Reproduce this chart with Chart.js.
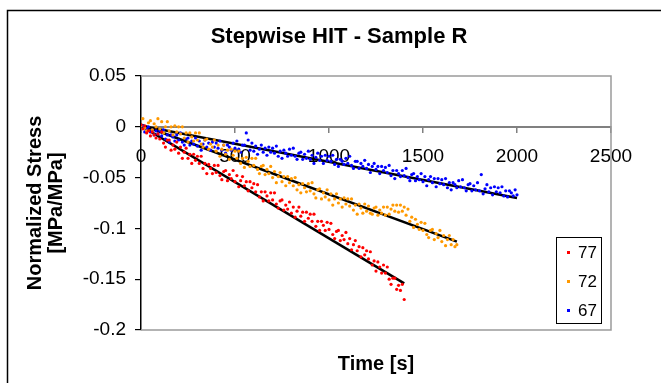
<!DOCTYPE html>
<html>
<head>
<meta charset="utf-8">
<script src="https://cdn.jsdelivr.net/npm/chart.js@4.4.0/dist/chart.umd.min.js"></script>
<style>
  html, body { margin: 0; padding: 0; background: #fff; }
  #wrap { position: relative; width: 661px; height: 383px; }
  #legend {
    position: absolute; left: 556px; top: 237px; width: 44px; height: 85px;
    border: 1.5px solid #000; background: #fff;
    font-family: Arial, "Liberation Sans", sans-serif; font-size: 17px; color: #000;
  }
  #legend .row { position: relative; height: 29px; line-height: 29px; padding-left: 21px; }
  #legend .mk { position: absolute; left: 10px; top: 13px; width: 3px; height: 3px; }
</style>
</head>
<body>
<div id="wrap">
  <canvas id="chart" width="661" height="383"></canvas>
  <div id="legend"></div>
</div>
<script>
// sampling times [s], one reading every 10 s
const timeS = [0, 10, 20, 30, 40, 50, 60, 70, 80, 90,
  100, 110, 120, 130, 140, 150, 160, 170, 180, 190,
  200, 210, 220, 230, 240, 250, 260, 270, 280, 290,
  300, 310, 320, 330, 340, 350, 360, 370, 380, 390,
  400, 410, 420, 430, 440, 450, 460, 470, 480, 490,
  500, 510, 520, 530, 540, 550, 560, 570, 580, 590,
  600, 610, 620, 630, 640, 650, 660, 670, 680, 690,
  700, 710, 720, 730, 740, 750, 760, 770, 780, 790,
  800, 810, 820, 830, 840, 850, 860, 870, 880, 890,
  900, 910, 920, 930, 940, 950, 960, 970, 980, 990,
  1000, 1010, 1020, 1030, 1040, 1050, 1060, 1070, 1080, 1090,
  1100, 1110, 1120, 1130, 1140, 1150, 1160, 1170, 1180, 1190,
  1200, 1210, 1220, 1230, 1240, 1250, 1260, 1270, 1280, 1290,
  1300, 1310, 1320, 1330, 1340, 1350, 1360, 1370, 1380, 1390,
  1400, 1410, 1420, 1430, 1440, 1450, 1460, 1470, 1480, 1490,
  1500, 1510, 1520, 1530, 1540, 1550, 1560, 1570, 1580, 1590,
  1600, 1610, 1620, 1630, 1640, 1650, 1660, 1670, 1680, 1690,
  1700, 1710, 1720, 1730, 1740, 1750, 1760, 1770, 1780, 1790,
  1800, 1810, 1820, 1830, 1840, 1850, 1860, 1870, 1880, 1890,
  1900, 1910, 1920, 1930, 1940, 1950, 1960, 1970, 1980, 1990,
  2000]

// sample 77 (0 - 1400 s)
const stress77 = [0.002, -0.002, 0.001, -0.006, -0.004, -0.009, -0.005, -0.008, -0.011, -0.007,
  -0.012, -0.005, -0.016, -0.020, -0.013, -0.013, -0.023, -0.018, -0.022, -0.015,
  -0.026, -0.020, -0.031, -0.025, -0.021, -0.031, -0.027, -0.036, -0.027, -0.033,
  -0.029, -0.036, -0.029, -0.041, -0.036, -0.046, -0.037, -0.041, -0.046, -0.038,
  -0.045, -0.038, -0.048, -0.052, -0.044, -0.043, -0.053, -0.047, -0.051, -0.043,
  -0.054, -0.048, -0.059, -0.053, -0.049, -0.058, -0.054, -0.063, -0.054, -0.060,
  -0.056, -0.064, -0.057, -0.069, -0.064, -0.073, -0.064, -0.068, -0.073, -0.065,
  -0.072, -0.065, -0.076, -0.080, -0.073, -0.072, -0.082, -0.077, -0.081, -0.074,
  -0.085, -0.079, -0.089, -0.083, -0.079, -0.088, -0.084, -0.093, -0.084, -0.090,
  -0.086, -0.093, -0.086, -0.098, -0.093, -0.102, -0.093, -0.097, -0.102, -0.094,
  -0.101, -0.095, -0.106, -0.110, -0.103, -0.102, -0.112, -0.107, -0.111, -0.104,
  -0.115, -0.110, -0.121, -0.116, -0.112, -0.122, -0.118, -0.128, -0.119, -0.126,
  -0.122, -0.130, -0.123, -0.136, -0.132, -0.142, -0.133, -0.138, -0.144, -0.136,
  -0.144, -0.138, -0.150, -0.155, -0.149, -0.149, -0.160, -0.156, -0.161, -0.155,
  -0.170]

// sample 72 (0 - 1680 s)
const stress72 = [0.001, 0.008, -0.001, -0.004, 0.004, 0.006, -0.003, 0.003, 0.000, 0.008,
  -0.002, 0.005, -0.006, 0.000, 0.005, -0.004, 0.000, -0.008, 0.001, -0.005,
  0.000, -0.007, 0.000, -0.011, -0.006, -0.015, -0.006, -0.010, -0.014, -0.006,
  -0.013, -0.006, -0.017, -0.020, -0.013, -0.012, -0.022, -0.017, -0.020, -0.013,
  -0.024, -0.018, -0.029, -0.022, -0.018, -0.027, -0.023, -0.032, -0.022, -0.028,
  -0.024, -0.031, -0.024, -0.036, -0.031, -0.040, -0.030, -0.034, -0.039, -0.031,
  -0.038, -0.031, -0.042, -0.046, -0.039, -0.038, -0.047, -0.042, -0.046, -0.039,
  -0.050, -0.044, -0.055, -0.049, -0.045, -0.054, -0.049, -0.058, -0.049, -0.055,
  -0.051, -0.058, -0.050, -0.062, -0.057, -0.065, -0.056, -0.060, -0.064, -0.056,
  -0.063, -0.055, -0.066, -0.070, -0.062, -0.061, -0.071, -0.065, -0.069, -0.062,
  -0.072, -0.066, -0.077, -0.071, -0.066, -0.075, -0.071, -0.079, -0.070, -0.076,
  -0.071, -0.078, -0.071, -0.082, -0.077, -0.086, -0.076, -0.080, -0.085, -0.076,
  -0.083, -0.078, -0.085, -0.086, -0.080, -0.079, -0.087, -0.082, -0.085, -0.079,
  -0.087, -0.079, -0.086, -0.081, -0.077, -0.083, -0.077, -0.084, -0.077, -0.083,
  -0.079, -0.087, -0.081, -0.093, -0.089, -0.099, -0.091, -0.096, -0.101, -0.094,
  -0.102, -0.095, -0.106, -0.109, -0.102, -0.101, -0.111, -0.105, -0.109, -0.102,
  -0.113, -0.107, -0.117, -0.111, -0.107, -0.116, -0.111, -0.118, -0.116]

// sample 67 (0 - 2000 s)
const stress67 = [0.001, 0.001, -0.005, -0.002, 0.000, -0.005, -0.003, -0.008, -0.004, -0.007,
  -0.004, -0.009, -0.003, -0.012, -0.008, -0.015, -0.008, -0.010, -0.014, -0.008,
  -0.013, -0.006, -0.015, -0.018, -0.012, -0.011, -0.018, -0.014, -0.017, -0.011,
  -0.019, -0.014, -0.023, -0.017, -0.013, -0.020, -0.016, -0.023, -0.015, -0.020,
  -0.016, -0.021, -0.014, -0.023, -0.018, -0.026, -0.018, -0.020, -0.023, -0.016,
  -0.021, -0.014, -0.022, -0.025, -0.018, -0.018, -0.006, -0.013, -0.023, -0.016,
  -0.024, -0.019, -0.027, -0.022, -0.018, -0.025, -0.021, -0.028, -0.020, -0.025,
  -0.021, -0.026, -0.019, -0.029, -0.024, -0.031, -0.023, -0.026, -0.029, -0.022,
  -0.028, -0.021, -0.029, -0.032, -0.026, -0.025, -0.032, -0.027, -0.031, -0.024,
  -0.032, -0.028, -0.036, -0.030, -0.026, -0.033, -0.029, -0.036, -0.028, -0.033,
  -0.029, -0.034, -0.028, -0.037, -0.032, -0.039, -0.032, -0.034, -0.037, -0.031,
  -0.036, -0.029, -0.038, -0.041, -0.034, -0.034, -0.041, -0.036, -0.039, -0.033,
  -0.041, -0.037, -0.045, -0.039, -0.036, -0.042, -0.039, -0.046, -0.039, -0.043,
  -0.040, -0.045, -0.038, -0.048, -0.043, -0.051, -0.043, -0.046, -0.049, -0.043,
  -0.048, -0.041, -0.050, -0.053, -0.047, -0.046, -0.053, -0.049, -0.052, -0.046,
  -0.054, -0.049, -0.058, -0.052, -0.049, -0.055, -0.051, -0.059, -0.051, -0.056,
  -0.052, -0.057, -0.051, -0.060, -0.055, -0.062, -0.055, -0.057, -0.060, -0.053,
  -0.059, -0.052, -0.060, -0.063, -0.057, -0.056, -0.063, -0.058, -0.062, -0.055,
  -0.063, -0.047, -0.066, -0.061, -0.057, -0.064, -0.060, -0.067, -0.059, -0.064,
  -0.060, -0.065, -0.059, -0.068, -0.063, -0.069, -0.063, -0.065, -0.068, -0.062,
  -0.067]

const time77 = timeS.slice(0, stress77.length)
const time72 = timeS.slice(0, stress72.length)
const time67 = timeS.slice(0, stress67.length)

// linear trend lines (end points)
const fitTime77 = [0, 1400]
const fit77 = [0.001, -0.154]
const fitTime72 = [0, 1680]
const fit72 = [0.002, -0.113]
const fitTime67 = [0, 2000]
const fit67 = [0.001, -0.070]

const xTickLabels = ['0', '500', '1000', '1500', '2000', '2500']
const yTickLabels = ['-0.2', '-0.15', '-0.1', '-0.05', '0', '0.05']

const FONT = 'Arial, "Liberation Sans", sans-serif'
Chart.defaults.font.family = FONT
Chart.defaults.color = '#000'

function pts(xs, ys) {
    return xs.map((x, i) => ({ x: x, y: ys[i] }))
}

function dots(label, xs, ys, color) {
    return {
        label: label,
        data: pts(xs, ys),
        backgroundColor: color,
        borderColor: color,
        borderWidth: 0,
        pointRadius: 1.6,
        pointHoverRadius: 1.6,
        showLine: false
    }
}

function trend(xs, ys) {
    return {
        label: '',
        data: pts(xs, ys),
        showLine: true,
        borderColor: '#000',
        borderWidth: 2.6,
        pointRadius: 0,
        pointHoverRadius: 0,
        fill: false,
        isTrend: true
    }
}

const framePlugin = {
    id: 'frame',
    afterLayout(chart) {
        // title sits over the whole frame, axis title over the plot area
        if (chart.titleBlock) {
            chart.titleBlock.left = 17
            chart.titleBlock.right = chart.width
        }
        chart.boxes.forEach(b => {
            if (b.options && b.options.text === 'Time [s]') {
                b.left = chart.chartArea.left
                b.right = chart.chartArea.right
            }
        })
    },
    beforeDraw(chart) {
        const c = chart.ctx
        c.save()
        c.fillStyle = '#fff'
        c.fillRect(0, 0, chart.width, chart.height)
        c.strokeStyle = '#000'
        c.lineWidth = 1.5
        c.beginPath()
        c.moveTo(7.5, chart.height)
        c.lineTo(7.5, 10.5)
        c.lineTo(chart.width, 10.5)
        c.stroke()
        c.restore()
    },
    beforeDatasetsDraw(chart) {
        const { left, right, top, bottom } = chart.chartArea
        const c = chart.ctx
        c.save()
        c.strokeStyle = '#9a9a9a'
        c.lineWidth = 1.5
        c.beginPath()
        c.moveTo(left, top)
        c.lineTo(right, top)
        c.lineTo(right, bottom)
        c.lineTo(left, bottom)
        c.stroke()
        c.restore()
    }
}

const chart = new Chart(document.getElementById('chart'), {
    type: 'scatter',
    data: {
        datasets: [
            dots('77', time77, stress77, '#ff0000'),
            dots('72', time72, stress72, '#ff9900'),
            dots('67', time67, stress67, '#0000ff'),
            trend(fitTime77, fit77),
            trend(fitTime72, fit72),
            trend(fitTime67, fit67)
        ]
    },
    options: {
        responsive: false,
        animation: false,
        events: [],
        layout: { padding: { left: 0, right: 50, top: 10, bottom: 0 } },
        plugins: {
            legend: { display: false },
            tooltip: { enabled: false },
            title: {
                display: true,
                text: 'Stepwise HIT - Sample R',
                color: '#000',
                font: { family: FONT, size: 22, weight: 'bold' },
                padding: { top: 14, bottom: 25.6 }
            },
            subtitle: {
                display: true,
                position: 'bottom',
                text: 'Time [s]',
                color: '#000',
                font: { family: FONT, size: 20, weight: 'bold' },
                padding: { top: 22, bottom: 7 }
            }
        },
        scales: {
            x: {
                type: 'linear',
                position: { y: 0 },
                min: 0,
                max: 2500,
                ticks: {
                    stepSize: 500,
                    color: '#000',
                    font: { size: 19 },
                    padding: 14,
                    maxRotation: 0,
                    callback: (v, i) => xTickLabels[i]
                },
                grid: { drawOnChartArea: false, drawTicks: true, tickLength: 5, color: '#808080', lineWidth: 1.5 },
                border: { color: '#808080', width: 2 }
            },
            y: {
                min: -0.2,
                max: 0.05,
                ticks: {
                    stepSize: 0.05,
                    color: '#000',
                    font: { size: 19 },
                    padding: 9,
                    callback: (v, i) => yTickLabels[i]
                },
                grid: { drawOnChartArea: false, drawTicks: true, tickLength: 6, color: '#000', lineWidth: 1.2 },
                border: { color: '#000', width: 1.5 },
                title: {
                    display: true,
                    text: ['Normalized Stress', '[MPa/MPa]'],
                    color: '#000',
                    font: { family: FONT, size: 20, weight: 'bold', lineHeight: 1.05 },
                    padding: { top: 25, bottom: 0 }
                },
                afterFit(scale) {
                    scale.width = 141
                }
            }
        }
    },
    plugins: [framePlugin]
})

// legend box (sample series only, trend lines left out)
const legendBox = document.getElementById('legend')
chart.data.datasets.filter(d => !d.isTrend).forEach(d => {
    const row = document.createElement('div')
    row.className = 'row'
    const mk = document.createElement('span')
    mk.className = 'mk'
    mk.style.background = d.backgroundColor
    row.appendChild(mk)
    row.appendChild(document.createTextNode(d.label))
    legendBox.appendChild(row)
})
</script>
</body>
</html>
